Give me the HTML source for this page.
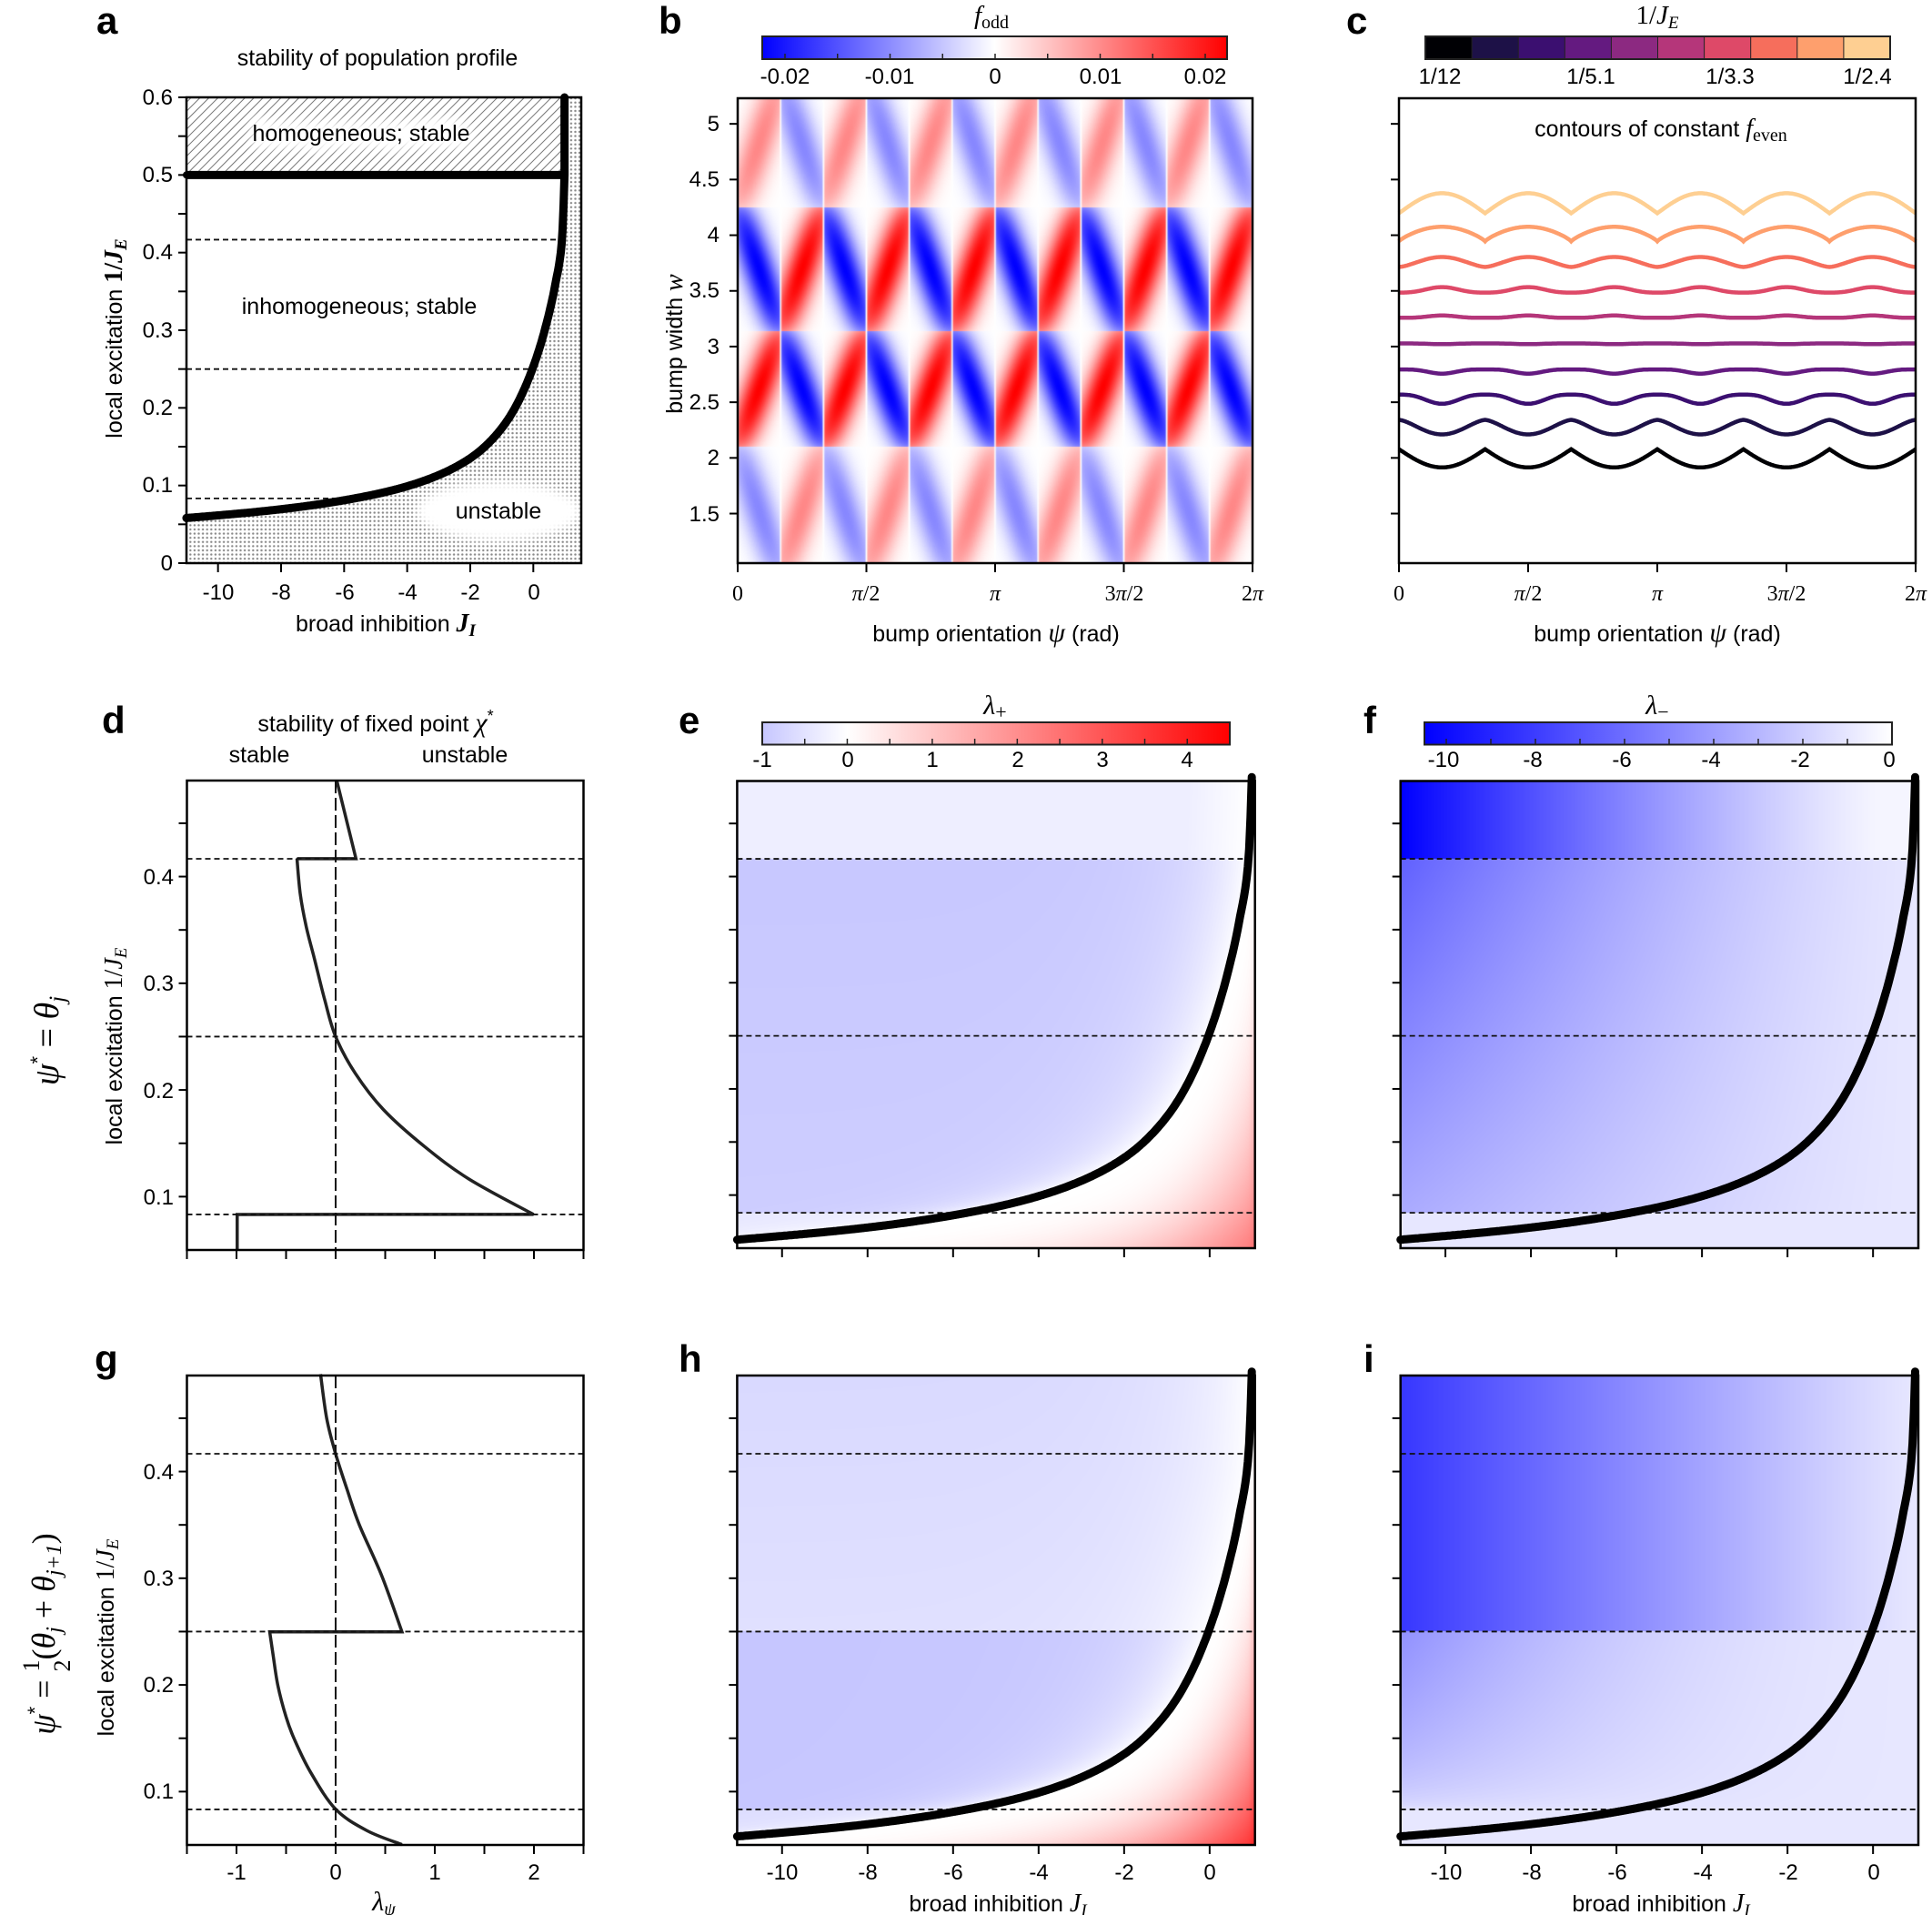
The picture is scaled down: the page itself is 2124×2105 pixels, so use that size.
<!DOCTYPE html>
<html><head><meta charset="utf-8"><style>
body{margin:0;background:#fff;width:2124px;height:2105px;overflow:hidden;position:relative}
canvas{position:absolute}
svg{position:absolute;left:0;top:0}
text{font-family:"Liberation Sans",sans-serif;font-size:24px;fill:#000}
.m{font-family:"Liberation Serif",serif;font-style:italic}
.r{font-family:"Liberation Serif",serif}
.L{font-weight:bold;font-size:42px}
.T{font-size:25px}
</style></head><body>
<canvas id="cb" style="left:811px;top:108px" width="566" height="511"></canvas>
<canvas id="ce" style="left:810px;top:858px" width="570" height="514"></canvas>
<canvas id="cf" style="left:1540px;top:858px" width="569" height="514"></canvas>
<canvas id="ch" style="left:810px;top:1512px" width="570" height="516"></canvas>
<canvas id="ci" style="left:1540px;top:1512px" width="569" height="516"></canvas>
<svg width="2124" height="2105" xmlns="http://www.w3.org/2000/svg">
<defs>
<pattern id="hat" width="7" height="7" patternUnits="userSpaceOnUse" patternTransform="rotate(45)"><line x1="0" y1="0" x2="0" y2="7" stroke="#666" stroke-width="1.8"/></pattern>
<pattern id="dot" width="4.6" height="4.6" patternUnits="userSpaceOnUse"><circle cx="2.3" cy="2.3" r="1.2" fill="#8a8a8a"/></pattern>
<filter id="bl" x="-30%" y="-80%" width="160%" height="260%"><feGaussianBlur stdDeviation="5"/></filter>
<linearGradient id="gb" x1="0" x2="1"><stop offset="0" stop-color="#0000ff"/><stop offset="0.5" stop-color="#fff"/><stop offset="1" stop-color="#ff0000"/></linearGradient>
<linearGradient id="ge" x1="0" x2="1"><stop offset="0" stop-color="rgb(198,198,255)"/><stop offset="0.1818" stop-color="#fff"/><stop offset="1" stop-color="#ff0000"/></linearGradient>
<linearGradient id="gf" x1="0" x2="1"><stop offset="0" stop-color="#0000ff"/><stop offset="1" stop-color="#fff"/></linearGradient>
</defs>
<g id="bg"></g>
<text class="L" x="106" y="37">a</text>
<text class="L" x="724" y="37">b</text>
<text class="L" x="1480" y="37">c</text>
<text class="L" x="112" y="806">d</text>
<text class="L" x="746" y="806">e</text>
<text class="L" x="1499" y="806">f</text>
<text class="L" x="104" y="1508">g</text>
<text class="L" x="746" y="1508">h</text>
<text class="L" x="1499" y="1508">i</text>
<text class="T" x="415" y="72" text-anchor="middle">stability of population profile</text>
<text class="T" x="424" y="694" text-anchor="middle">broad inhibition <tspan class="m" font-weight="bold" font-size="28">J</tspan><tspan class="m" font-weight="bold" font-size="19" dy="5">I</tspan></text>
<text class="T" transform="translate(134,372) rotate(-90)" text-anchor="middle">local excitation  <tspan class="r" font-weight="bold" font-size="28">1/</tspan><tspan class="m" font-weight="bold" font-size="28">J</tspan><tspan class="m" font-weight="bold" font-size="19" dy="5">E</tspan></text>
<g id="halo"></g>
<text class="T" x="397" y="155" text-anchor="middle">homogeneous; stable</text>
<text class="T" x="395" y="345" text-anchor="middle">inhomogeneous; stable</text>
<text class="T" x="548" y="570" text-anchor="middle">unstable</text>
<text x="1090" y="26" text-anchor="middle"><tspan class="m" font-size="29">f</tspan><tspan class="r" font-size="20" dy="5">odd</tspan></text>
<text x="863" y="92" text-anchor="middle">-0.02</text>
<text x="978" y="92" text-anchor="middle">-0.01</text>
<text x="1094" y="92" text-anchor="middle">0</text>
<text x="1210" y="92" text-anchor="middle">0.01</text>
<text x="1325" y="92" text-anchor="middle">0.02</text>
<text class="T" transform="translate(750,378) rotate(-90)" text-anchor="middle">bump width <tspan class="m" font-size="28">w</tspan></text>
<text class="T" x="1095" y="705" text-anchor="middle">bump orientation <tspan class="m" font-size="30">ψ</tspan> (rad)</text>
<text x="1822" y="26" text-anchor="middle"><tspan class="r" font-size="29">1/</tspan><tspan class="m" font-size="29">J</tspan><tspan class="m" font-size="19" dy="5">E</tspan></text>
<text x="1583" y="92" text-anchor="middle">1/12</text>
<text x="1749" y="92" text-anchor="middle">1/5.1</text>
<text x="1902" y="92" text-anchor="middle">1/3.3</text>
<text x="2053" y="92" text-anchor="middle">1/2.4</text>
<text class="T" x="1826" y="150" text-anchor="middle">contours of constant <tspan class="m" font-size="28">f</tspan><tspan class="r" font-size="20" dy="5">even</tspan></text>
<text class="T" x="1822" y="705" text-anchor="middle">bump orientation <tspan class="m" font-size="30">ψ</tspan> (rad)</text>
<text class="T" x="413" y="804" text-anchor="middle">stability of fixed point <tspan class="m" font-size="30">χ</tspan><tspan font-size="18" dy="-11">*</tspan></text>
<text class="T" x="285" y="838" text-anchor="middle">stable</text>
<text class="T" x="511" y="838" text-anchor="middle">unstable</text>
<text class="T" transform="translate(134,1150) rotate(-90)" text-anchor="middle">local excitation  <tspan class="r" font-size="28">1/</tspan><tspan class="m" font-size="28">J</tspan><tspan class="m" font-size="19" dy="5">E</tspan></text>
<text transform="translate(64,1144) rotate(-90)" text-anchor="middle"><tspan class="m" font-size="38">ψ</tspan><tspan font-size="22" dy="-15">*</tspan><tspan class="r" font-size="38" dy="15"> = </tspan><tspan class="m" font-size="38">θ</tspan><tspan class="m" font-size="25" dy="7">j</tspan></text>
<text x="1094" y="785" text-anchor="middle"><tspan class="m" font-size="30">λ</tspan><tspan class="r" font-size="22" dy="5">+</tspan></text>
<text x="1822" y="785" text-anchor="middle"><tspan class="m" font-size="30">λ</tspan><tspan class="r" font-size="22" dy="5">−</tspan></text>
<text class="T" transform="translate(125,1800) rotate(-90)" text-anchor="middle">local excitation  <tspan class="r" font-size="28">1/</tspan><tspan class="m" font-size="28">J</tspan><tspan class="m" font-size="19" dy="5">E</tspan></text>
<text transform="translate(60,1796) rotate(-90)" text-anchor="middle"><tspan class="m" font-size="36">ψ</tspan><tspan font-size="22" dy="-14">*</tspan><tspan class="r" font-size="36" dy="14"> = </tspan><tspan class="r" font-size="26" dy="-17">1</tspan><tspan class="r" font-size="26" dx="-13" dy="34">2</tspan><tspan class="r" font-size="36" dy="-17">(</tspan><tspan class="m" font-size="36">θ</tspan><tspan class="m" font-size="24" dy="7">j</tspan><tspan class="r" font-size="36" dy="-7"> + </tspan><tspan class="m" font-size="36">θ</tspan><tspan class="m" font-size="24" dy="7">j+1</tspan><tspan class="r" font-size="36" dy="-7">)</tspan></text>
<text x="422" y="2100" text-anchor="middle"><tspan class="m" font-size="30">λ</tspan><tspan class="m" font-size="20" dy="5">ψ</tspan></text>
<text class="T" x="1097" y="2101" text-anchor="middle">broad inhibition <tspan class="m" font-size="28">J</tspan><tspan class="m" font-size="19" dy="5">I</tspan></text>
<text class="T" x="1826" y="2101" text-anchor="middle">broad inhibition <tspan class="m" font-size="28">J</tspan><tspan class="m" font-size="19" dy="5">I</tspan></text>
<g text-anchor="end">
<text x="190" y="115">0.6</text><text x="190" y="200">0.5</text><text x="190" y="285">0.4</text><text x="190" y="371">0.3</text><text x="190" y="456">0.2</text><text x="190" y="541">0.1</text><text x="190" y="627">0</text>
<text x="791" y="144">5</text><text x="791" y="205">4.5</text><text x="791" y="266">4</text><text x="791" y="327">3.5</text><text x="791" y="389">3</text><text x="791" y="450">2.5</text><text x="791" y="511">2</text><text x="791" y="573">1.5</text>
<text x="191" y="1324">0.1</text><text x="191" y="1207">0.2</text><text x="191" y="1089">0.3</text><text x="191" y="972">0.4</text>
<text x="191" y="1977">0.1</text><text x="191" y="1860">0.2</text><text x="191" y="1743">0.3</text><text x="191" y="1626">0.4</text>
</g>
<g text-anchor="middle">
<text x="240" y="659">-10</text><text x="309" y="659">-8</text><text x="379" y="659">-6</text><text x="448" y="659">-4</text><text x="517" y="659">-2</text><text x="587" y="659">0</text>
<text x="811" y="660" class="r">0</text><text x="952" y="660" class="r"><tspan class="m">π</tspan>/2</text><text x="1094" y="660" class="m">π</text><text x="1236" y="660" class="r">3<tspan class="m">π</tspan>/2</text><text x="1377" y="660" class="r">2<tspan class="m">π</tspan></text>
<text x="1538" y="660" class="r">0</text><text x="1680" y="660" class="r"><tspan class="m">π</tspan>/2</text><text x="1822" y="660" class="m">π</text><text x="1964" y="660" class="r">3<tspan class="m">π</tspan>/2</text><text x="2106" y="660" class="r">2<tspan class="m">π</tspan></text>
<text x="260" y="2066">-1</text><text x="369" y="2066">0</text><text x="478" y="2066">1</text><text x="587" y="2066">2</text>
<text x="860" y="2066">-10</text><text x="954" y="2066">-8</text><text x="1048" y="2066">-6</text><text x="1142" y="2066">-4</text><text x="1236" y="2066">-2</text><text x="1330" y="2066">0</text>
<text x="1590" y="2066">-10</text><text x="1684" y="2066">-8</text><text x="1778" y="2066">-6</text><text x="1872" y="2066">-4</text><text x="1966" y="2066">-2</text><text x="2060" y="2066">0</text>
<text x="838" y="843">-1</text><text x="932" y="843">0</text><text x="1025" y="843">1</text><text x="1119" y="843">2</text><text x="1212" y="843">3</text><text x="1305" y="843">4</text>
<text x="1587" y="843">-10</text><text x="1685" y="843">-8</text><text x="1783" y="843">-6</text><text x="1881" y="843">-4</text><text x="1979" y="843">-2</text><text x="2077" y="843">0</text>
</g>
<g id="dyn"></g>
</svg>
<script>
(function(){
function mk(x0,x1,y0,y1,xa,xb,ya,yb){return {x0,x1,y0,y1,xa,xb,ya,yb,X:v=>x0+(v-xa)/(xb-xa)*(x1-x0),Y:v=>y1-(v-ya)/(yb-ya)*(y1-y0)};}
const PI=Math.PI;
const A=mk(205,639,107,619,-11,1.52,0,0.6);
const B=mk(811,1377,108,619,0,2*PI,1.055,5.23);
const C=mk(1538,2106,108,619,0,2*PI,1.055,5.23);
const D=mk(205.5,641.5,858,1374,-1.5,2.5,0.05,0.49);
const G=mk(205.5,641.5,1512,2028,-1.5,2.5,0.05,0.49);
const E=mk(810.4,1379.7,858.5,1372,-11.05,1.06,0.05,0.49);
const F=mk(1539.7,2109,858.5,1372,-11.05,1.06,0.05,0.49);
const H=mk(810.4,1379.7,1512,2028,-11.05,1.06,0.05,0.49);
const I=mk(1539.7,2109,1512,2028,-11.05,1.06,0.05,0.49);
const CJ=[-11.3,-11,-8,-6,-4,-2,-1,0,0.4,0.7,0.91,0.99];
const CI=[17.5,17.2,14.4,12.35,10.1,7.4,5.75,3.95,3.27,2.78,2.4,2.0];
const n=CJ.length,dl=[],mm=[];
for(let i=0;i<n-1;i++)dl.push((CI[i+1]-CI[i])/(CJ[i+1]-CJ[i]));
mm[0]=dl[0];mm[n-1]=dl[n-2];
for(let i=1;i<n-1;i++){if(dl[i-1]*dl[i]<=0)mm[i]=0;else{const h0=CJ[i]-CJ[i-1],h1=CJ[i+1]-CJ[i];mm[i]=3*(h0+h1)/((2*h1+h0)/dl[i-1]+(h1+2*h0)/dl[i]);}}
function inv(J){let i=0;while(i<n-2&&CJ[i+1]<J)i++;const h=CJ[i+1]-CJ[i],t=(J-CJ[i])/h;const t2=t*t,t3=t2*t;
 return (2*t3-3*t2+1)*CI[i]+(t3-2*t2+t)*h*mm[i]+(-2*t3+3*t2)*CI[i+1]+(t3-t2)*h*mm[i+1];}
function yc(J){if(J<=CJ[0])return 1/CI[0];if(J>=0.99)return 0.5;return 1/inv(J);}
function Jc(y){if(y>=0.5)return 0.99;let lo=-30,hi=0.99;for(let k=0;k<40;k++){const m=(lo+hi)/2;if(yc(m)<y)lo=m;else hi=m;}return (lo+hi)/2;}
let s='';
function crv(p,J0,J1,w){let d='';for(let k=0;k<=400;k++){const J=J0+(J1-J0)*k/400;d+=(k?'L':'M')+p.X(J).toFixed(1)+' '+p.Y(yc(J)).toFixed(1);}return '<path d="'+d+'" fill="none" stroke="#000" stroke-width="'+w+'" stroke-linecap="round" stroke-linejoin="round"/>';}
function dash(p,y,xa,xb){return '<line x1="'+xa+'" x2="'+xb+'" y1="'+p.Y(y)+'" y2="'+p.Y(y)+'" stroke="#111" stroke-width="1.8" stroke-dasharray="6,4"/>';}
function frame(p){return '<rect x="'+p.x0+'" y="'+p.y0+'" width="'+(p.x1-p.x0)+'" height="'+(p.y1-p.y0)+'" fill="none" stroke="#000" stroke-width="2.5"/>';}
function tx(p,vals){let r='';vals.forEach(v=>{const x=p.X(v);r+='<line x1="'+x+'" x2="'+x+'" y1="'+p.y1+'" y2="'+(p.y1+10)+'" stroke="#000" stroke-width="2"/>';});return r;}
function ty(p,vals){let r='';vals.forEach(v=>{const y=p.Y(v);r+='<line x1="'+(p.x0-9)+'" x2="'+p.x0+'" y1="'+y+'" y2="'+y+'" stroke="#000" stroke-width="2"/>';});return r;}
function cat(pts){let d='M'+pts[0][0]+' '+pts[0][1];for(let i=0;i<pts.length-1;i++){const p0=pts[Math.max(0,i-1)],p1=pts[i],p2=pts[i+1],p3=pts[Math.min(pts.length-1,i+2)];d+='C'+(p1[0]+(p2[0]-p0[0])/6)+' '+(p1[1]+(p2[1]-p0[1])/6)+' '+(p2[0]-(p3[0]-p1[0])/6)+' '+(p2[1]-(p3[1]-p1[1])/6)+' '+p2[0]+' '+p2[1];}return d;}
let poly=[];for(let k=0;k<=200;k++){const J=-11+(0.99+11)*k/200;poly.push(A.X(J).toFixed(1)+','+A.Y(yc(J)).toFixed(1));}
poly.push(A.X(0.99)+','+A.Y(0.6));poly.push(A.x1+','+A.Y(0.6));poly.push(A.x1+','+A.y1);poly.push(A.x0+','+A.y1);
let bg='<polygon points="'+poly.join(' ')+'" fill="url(#dot)"/>';
bg+='<rect x="'+A.x0+'" y="'+A.Y(0.6)+'" width="'+(A.X(0.99)-A.x0)+'" height="'+(A.Y(0.5)-A.Y(0.6))+'" fill="url(#hat)"/>';
document.getElementById('bg').innerHTML=bg;
let h='<text x="397" y="155" text-anchor="middle" font-size="25" fill="#fff" stroke="#fff" stroke-width="16" filter="url(#bl)">homogeneous; stable</text>';
h+='<ellipse cx="548" cy="562" rx="90" ry="32" fill="#fff" filter="url(#bl)"/>';
document.getElementById('halo').innerHTML=h;
[0.41667,0.25,0.08333].forEach(y=>{s+=dash(A,y,A.x0,A.X(Jc(y)));});
s+='<line x1="'+A.x0+'" x2="'+A.X(0.99)+'" y1="'+A.Y(0.5)+'" y2="'+A.Y(0.5)+'" stroke="#000" stroke-width="9"/>';
s+='<line x1="'+A.X(0.99)+'" x2="'+A.X(0.99)+'" y1="'+A.Y(0.5)+'" y2="'+A.Y(0.6)+'" stroke="#000" stroke-width="9"/>';
s+=crv(A,-11,0.99,9);
s+='<circle cx="'+A.x0+'" cy="'+A.Y(0.5)+'" r="4"/><circle cx="'+A.x0+'" cy="'+A.Y(yc(-11))+'" r="4.5"/><circle cx="'+A.X(0.99)+'" cy="'+A.Y(0.6)+'" r="4.5"/>';
s+=frame(A)+tx(A,[-10,-8,-6,-4,-2,0])+ty(A,[0,0.05,0.1,0.15,0.2,0.25,0.3,0.35,0.4,0.45,0.5,0.55,0.6]);
function bwr(t){t=Math.max(-1,Math.min(1,t));if(t<0)return [255*(1+t),255*(1+t),255];return [255,255*(1-t),255*(1-t)];}
function paint(id,p,fn){const c=document.getElementById(id);const ctx=c.getContext('2d');const W=c.width,Hh=c.height;const im=ctx.createImageData(W,Hh);for(let j=0;j<Hh;j++){const yv=p.ya+(p.yb-p.ya)*(1-(j+0.5)/Hh);for(let i=0;i<W;i++){const xv=p.xa+(p.xb-p.xa)*(i+0.5)/W;const col=fn(xv,yv);const o=(j*W+i)*4;im.data[o]=col[0];im.data[o+1]=col[1];im.data[o+2]=col[2];im.data[o+3]=255;}}ctx.putImageData(im,0,0);}
paint('cb',B,function(psi,w){const cw=PI/6;const k=Math.floor(psi/cw);const p=psi/cw-k;let sec,lo,hi;
 if(w<2.1){sec=0;lo=0.95;hi=2.1}else if(w<3.14){sec=1;lo=2.1;hi=3.14}else if(w<4.25){sec=2;lo=3.14;hi=4.25}else{sec=3;lo=4.25;hi=5.4}
 const v=Math.min(1,Math.max(0,(w-lo)/(hi-lo)));const sg=((k+sec+1)%2==0)?1:-1;const amp=(sec==1||sec==2)?1:0.47;
 const pr=sg>0?0.03+0.94*v:0.97-0.94*v;const g=Math.exp(-Math.pow((p-pr)/0.42,2));
 const env=Math.pow(Math.sin(PI*(0.04+0.92*v)),0.35);const edge=Math.min(1,p/0.035,(1-p)/0.035);
 return bwr(sg*amp*g*env*edge);});
s+=frame(B)+tx(B,[0,PI/2,PI,1.5*PI,2*PI])+ty(B,[1.5,2,2.5,3,3.5,4,4.5,5]);
s+='<rect x="838" y="40" width="511" height="25" fill="url(#gb)" stroke="#222" stroke-width="2"/>';
for(let v=-0.02;v<=0.0201;v+=0.005){const x=1094+v*11550;s+='<line x1="'+x+'" x2="'+x+'" y1="65" y2="59" stroke="#222" stroke-width="1.5"/>';}
const mag=['#000004','#1d1147','#3b0f70','#641a80','#8c2981','#b5367a','#de4968','#f66e5c','#fe9f6d','#fecf92'];
for(let k=0;k<10;k++){s+='<rect x="'+(1567+k*51.1)+'" y="40" width="51.6" height="25" fill="'+mag[k]+'"/>';}
s+='<rect x="1567" y="40" width="511" height="25" fill="none" stroke="#222" stroke-width="2"/>';
for(let k=1;k<10;k++){s+='<line x1="'+(1567+k*51.1)+'" x2="'+(1567+k*51.1)+'" y1="40" y2="65" stroke="#222" stroke-width="1"/>';}
const cf=[s=>493.8+20*s,s=>461.5+16*Math.pow(s,1.5),s=>433.8+10*Math.pow(s,3),s=>406.1+4.6*Math.pow(s,4),s=>377.5+0.8*Math.pow(s,4),s=>349.3-2.5*Math.pow(s,4),s=>321.6-6*Math.pow(s,3),s=>293.5-11*Math.pow(s,1.5),s=>265.3-16*Math.pow(s,0.8),s=>234.4-22*s];
cf.forEach((f,k)=>{let d='';for(let i=0;i<=600;i++){const psi=2*PI*i/600;const sv=Math.abs(Math.sin(3*psi));d+=(i?'L':'M')+C.X(psi).toFixed(1)+' '+f(sv).toFixed(1);}s+='<path d="'+d+'" fill="none" stroke="'+mag[k]+'" stroke-width="4.5"/>';});
s+=frame(C)+tx(C,[0,PI/2,PI,1.5*PI,2*PI])+ty(C,[1.5,2,2.5,3,3.5,4,4.5,5]);
let pd='M'+D.X(0.012)+' '+D.Y(0.4897)+'L'+D.X(0.205)+' '+D.Y(0.4168)+'L'+D.X(-0.39)+' '+D.Y(0.4168);
const dc=[[-0.39,0.4168],[-0.357,0.3836],[-0.296,0.353],[-0.213,0.3225],[-0.11,0.2844],[0,0.25],[0.197,0.2157],[0.484,0.1813],[0.895,0.147],[1.346,0.1164],[1.995,0.0833]].map(q=>[+D.X(q[0]).toFixed(1),+D.Y(q[1]).toFixed(1)]);
s+='<path d="'+pd+'" fill="none" stroke="#222" stroke-width="3.5"/>';
s+='<path d="'+cat(dc)+'L'+D.X(-0.993)+' '+D.Y(0.0833)+'L'+D.X(-0.993)+' '+D.y1+'" fill="none" stroke="#222" stroke-width="3.5"/>';
[0.41667,0.25,0.08333].forEach(y=>{s+=dash(D,y,D.x0,D.x1);});
s+='<line x1="'+D.X(0)+'" x2="'+D.X(0)+'" y1="'+D.y0+'" y2="'+D.y1+'" stroke="#111" stroke-width="2" stroke-dasharray="14,5"/>';
s+=frame(D)+tx(D,[-1.5,-1,-0.5,0,0.5,1,1.5,2,2.5])+ty(D,[0.1,0.15,0.2,0.25,0.3,0.35,0.4,0.45]);
const g1=[[-0.152,0.4913],[-0.09,0.4497],[0,0.4166],[0.115,0.3834],[0.238,0.3503],[0.464,0.3025],[0.669,0.2498]].map(q=>[+G.X(q[0]).toFixed(1),+G.Y(q[1]).toFixed(1)]);
const g2=[[-0.665,0.2498],[-0.632,0.2289],[-0.583,0.1994],[-0.5,0.17],[-0.419,0.1497],[-0.254,0.1184],[0,0.0835],[0.32,0.0632],[0.669,0.0503]].map(q=>[+G.X(q[0]).toFixed(1),+G.Y(q[1]).toFixed(1)]);
s+='<path d="'+cat(g1)+'L'+g2[0][0]+' '+g2[0][1]+cat(g2).replace(/^M[^C]*/,'')+'" fill="none" stroke="#222" stroke-width="3.5"/>';
[0.41667,0.25,0.08333].forEach(y=>{s+=dash(G,y,G.x0,G.x1);});
s+='<line x1="'+G.X(0)+'" x2="'+G.X(0)+'" y1="'+G.y0+'" y2="'+G.y1+'" stroke="#111" stroke-width="2" stroke-dasharray="14,5"/>';
s+=frame(G)+tx(G,[-1.5,-1,-0.5,0,0.5,1,1.5,2,2.5])+ty(G,[0.1,0.15,0.2,0.25,0.3,0.35,0.4,0.45]);
function ecol(v){return bwr(v/4.5);}
function fcol(v){const t=Math.min(1,-v/10.5);return [255*(1-t),255*(1-t),255];}
paint('ce',E,function(J,y){const c=yc(J);if(y<c){const r=(c-y)/c;return ecol(3.2*Math.pow(r,2.6)*(0.3+0.7*(J+11)/12));}
 const dx=Jc(y)-J;
 if(y>0.41667)return ecol(-0.3*Math.min(1,dx/1.5));
 if(y>0.08333)return ecol(-0.98*(1-Math.exp(-dx/1.2))*(0.9+0.1*(y-0.0833)/0.333));
 return ecol(-0.45*(1-Math.exp(-dx/2)));});
paint('cf',F,function(J,y){if(y>0.41667){const a=Math.max(0,(1.05-J)/12.1);return fcol(Math.min(-0.4,-10.5*Math.pow(a,1.3)));}
 if(y>0.08333){const a=Math.max(0,(1-J)/12);const b=0.45+0.55*(y-0.0833)/0.3334;return fcol(-1-5.5*Math.pow(a,1.3)*b);}
 return fcol(-1);});
paint('ch',H,function(J,y){const c=yc(J);if(y<c){const r=(c-y)/c;return ecol(4.8*Math.pow(r,2.4)*(0.35+0.65*(J+11)/12));}
 const dx=Jc(y)-J;
 if(y>0.25)return ecol(-(0.55+0.12*(y-0.25)/0.24)*(1-Math.exp(-dx/1.5)));
 if(y>0.08333)return ecol(-1*(1-Math.exp(-dx/1.3)));
 return ecol(-0.6*(1-Math.exp(-dx/1.5)));});
paint('ci',I,function(J,y){if(y>0.25){const a=Math.max(0,(1-J)/12);return fcol(-1-7.2*Math.pow(a,1.1));}
 if(y>0.08333){const a=Math.max(0,(1-J)/12);const b=Math.sqrt((y-0.0833)/0.1667);return fcol(-1-3.5*a*a*b);}
 return fcol(-1);});
[E,F,H,I].forEach(p=>{[0.41667,0.25,0.08333].forEach(y=>{s+=dash(p,y,p.x0,p.x1);});s+=crv(p,-11.05,0.985,9);s+=frame(p)+tx(p,[-10,-8,-6,-4,-2,0])+ty(p,[0.1,0.15,0.2,0.25,0.3,0.35,0.4,0.45]);});
s+='<rect x="838" y="794" width="514" height="24.5" fill="url(#ge)" stroke="#222" stroke-width="2"/>';
for(let v=-0.5;v<=4.01;v+=0.5){const x=838+(v+1)*93.45;s+='<line x1="'+x+'" x2="'+x+'" y1="818.5" y2="812" stroke="#222" stroke-width="1.5"/>';}
s+='<rect x="1566" y="794" width="514" height="24.5" fill="url(#gf)" stroke="#222" stroke-width="2"/>';
for(let v=-10;v<=-0.99;v+=1){const x=2080+v*49;s+='<line x1="'+x+'" x2="'+x+'" y1="818.5" y2="812" stroke="#222" stroke-width="1.5"/>';}
document.getElementById('dyn').innerHTML=s;
})();
</script>
</body></html>
